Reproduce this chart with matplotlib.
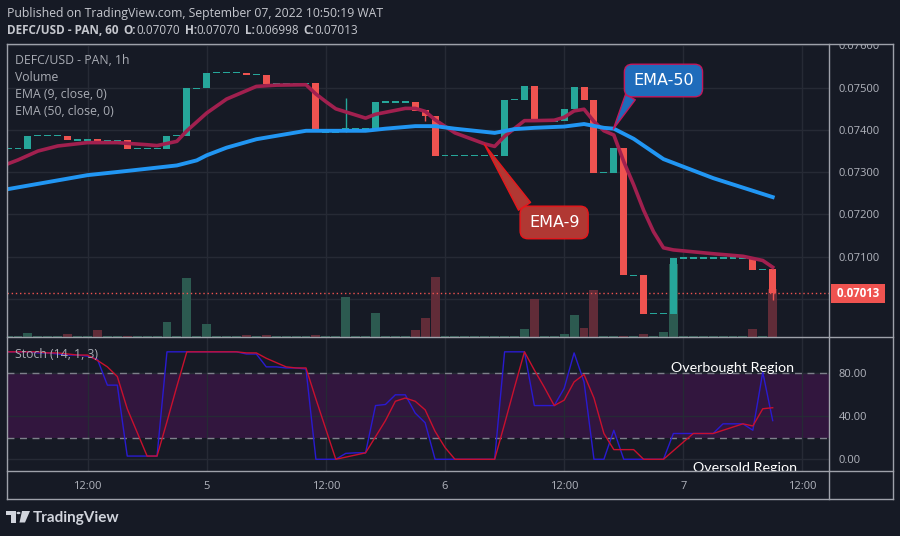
import numpy as np
import matplotlib.pyplot as plt
from matplotlib.lines import Line2D
from matplotlib.patches import Rectangle, Polygon, Circle

# ---------- data (x = hours since Sep 5 00:00) ----------
hours = np.arange(-20, 58)

opens = [
    0.07356, 0.07356, 0.07356, 0.07386, 0.07386, 0.07386, 0.07386, 0.07376, 0.07376, 0.07378,
    0.07375, 0.07375, 0.07376, 0.07356, 0.07356, 0.07356, 0.07356, 0.07386, 0.07386, 0.07499,
    0.07499, 0.07535, 0.07535, 0.07535, 0.07535, 0.07531, 0.07531, 0.07510, 0.07510, 0.07510,
    0.07510, 0.07510, 0.07394, 0.07394, 0.07394, 0.07404, 0.07404, 0.07402, 0.07466, 0.07466,
    0.07466, 0.07466, 0.07447, 0.07432, 0.07340, 0.07340, 0.07340, 0.07340, 0.07340, 0.07340,
    0.07338, 0.07472, 0.07472, 0.07504, 0.07421, 0.07421, 0.07421, 0.07450, 0.07502, 0.07470,
    0.07300, 0.07299, 0.07357, 0.07056, 0.07056, 0.06965, 0.06965, 0.06965, 0.07097, 0.07097,
    0.07097, 0.07097, 0.07097, 0.07097, 0.07097, 0.07097, 0.07070, 0.07070,
]
closes = [
    0.07356, 0.07356, 0.07386, 0.07386, 0.07386, 0.07386, 0.07376, 0.07376, 0.07376, 0.07374,
    0.07375, 0.07375, 0.07356, 0.07356, 0.07356, 0.07356, 0.07386, 0.07386, 0.07499, 0.07499,
    0.07535, 0.07535, 0.07535, 0.07535, 0.07531, 0.07531, 0.07509, 0.07510, 0.07510, 0.07510,
    0.07510, 0.07394, 0.07394, 0.07394, 0.07404, 0.07404, 0.07404, 0.07466, 0.07466, 0.07466,
    0.07466, 0.07445, 0.07432, 0.07338, 0.07340, 0.07340, 0.07340, 0.07340, 0.07340, 0.07340,
    0.07472, 0.07472, 0.07504, 0.07421, 0.07421, 0.07421, 0.07450, 0.07502, 0.07470, 0.07299,
    0.07300, 0.07357, 0.07056, 0.07056, 0.06964, 0.06965, 0.06965, 0.07097, 0.07097, 0.07097,
    0.07097, 0.07097, 0.07097, 0.07097, 0.07097, 0.07069, 0.07070, 0.07013,
]
wick_high = {14: 0.07475}
wick_low = {22: 0.07421, 57: 0.06998}

# volume in arbitrary units (scale top = 293.5)
volume = [
    0.7, 0.7, 3.7, 0.7, 0.7, 0.7, 2.7, 0.7, 0.7, 6.7,
    0.7, 0.7, 1.5, 0.7, 0.7, 0.7, 14.7, 0.7, 58.7, 0.7,
    12.7, 0.7, 0.7, 0.7, 2.0, 0.7, 2.0, 0.7, 0.7, 0.7,
    0.7, 2.0, 0.7, 0.7, 39.7, 0.7, 0.7, 23.7, 0.7, 0.7,
    0.7, 6.7, 18.7, 59.7, 0.7, 0.7, 0.7, 0.7, 0.7, 0.7,
    1.0, 0.7, 7.7, 37.7, 0.7, 0.7, 3.0, 21.7, 8.7, 46.7,
    0.7, 0.7, 1.5, 0.7, 3.0, 0.7, 4.7, 72.7, 0.7, 0.7,
    0.7, 0.7, 0.7, 0.7, 0.7, 7.7, 0.7, 47.7,
]
VOL_TOP = 293.5

ema9_hours = [-20, -19, -17, -15, -12, -9, -6, -5, -4, -3, -2, -1, 0, 2, 5, 7, 10, 11, 12, 13,
              16, 17, 20, 21, 22, 23, 25, 28, 29, 30, 32, 33, 35, 36, 37, 38, 39, 40, 41, 42,
              43, 44, 45, 46, 47, 51, 54, 55, 56, 57]
ema9 = [0.07320, 0.07329, 0.07350, 0.07362, 0.07370, 0.07370, 0.07365, 0.07363, 0.07368, 0.07373,
        0.07398, 0.07419, 0.07440, 0.07473, 0.07503, 0.07506, 0.07507, 0.07485, 0.07467, 0.07450,
        0.07428, 0.07437, 0.07451, 0.07451, 0.07444, 0.07424, 0.07393, 0.07367, 0.07361, 0.07385,
        0.07422, 0.07422, 0.07423, 0.07430, 0.07445, 0.07449, 0.07420, 0.07398, 0.07388, 0.07325,
        0.07270, 0.07210, 0.07159, 0.07121, 0.07116, 0.07107, 0.07101, 0.07096, 0.07091, 0.07075]

ema50_hours = [-20, -12, -8, -3, -1, 0, 2, 5, 10, 11, 16, 18, 21, 23, 25, 29, 31, 33, 36, 38,
               40, 41, 43, 46, 51, 57]
ema50 = [0.07260, 0.07293, 0.07303, 0.07316, 0.07328, 0.07340, 0.07358, 0.07378, 0.07398, 0.07398,
         0.07398, 0.07403, 0.07409, 0.07409, 0.07403, 0.07393, 0.07402, 0.07405, 0.07408, 0.07414,
         0.07405, 0.07403, 0.07379, 0.07331, 0.07286, 0.07241]

stoch_k = [
    100, 100, 100, 99, 99, 98, 97, 97, 96, 93,
    69, 69, 3, 3, 3, 3, 100, 100, 100, 100,
    100, 100, 100, 100, 98, 98, 86, 86, 85, 85,
    84, 0, 0, 0, 5.5, 6, 6, 50, 51, 60,
    60, 43, 34, 0, 0, 0, 0, 0, 0, 0,
    100, 100, 100, 50, 50, 50, 66, 99, 72, 0,
    0, 27, 0, 0, 0, 0, 0, 24, 24, 24,
    24, 24, 33, 33, 33, 27, 81, 36,
]
stoch_d = [
    100, 100, 100, 100, 99, 99, 98, 97, 97, 92,
    86, 77, 47, 25, 3, 3, 35, 68, 100, 100,
    100, 100, 100, 100, 99, 99, 94, 90, 86, 85,
    85, 56, 28, 0, 2, 4, 6, 21, 36, 54,
    57, 54, 46, 26, 11, 0, 0, 0, 0, 0,
    33, 67, 100, 83, 67, 50, 55, 72, 79, 57,
    24, 9, 9, 9, 0, 0, 0, 8, 16, 24,
    24, 24, 27, 30, 33, 31, 47, 48,
]

time_ticks = [-12, 0, 12, 24, 36, 48, 60]
time_labels = ["12:00", "5", "12:00", "6", "12:00", "7", "12:00"]
price_ticks = [0.070, 0.071, 0.072, 0.073, 0.074, 0.075, 0.076]
stoch_ticks = [0, 40, 80]
last_price = closes[-1]

# ---------- style ----------
W, H = 900, 536
BG = "#161a25"
GRID = "#262a35"
FRAME = "#9ea1aa"
TXT = "#b2b5be"
TEAL = "#26a69a"
RED = "#ef5350"
VOL_UP = "#2c5a50"
VOL_DN = "#612c38"
FONT = "Open Sans"


def fx(px):
    return px / W


def fy(py):
    return 1 - py / H


fig = plt.figure(figsize=(9, 5.36), dpi=100, facecolor=BG)
ax = fig.add_axes([fx(7), fy(337), fx(829) - fx(7), fy(43.5) - fy(337)], facecolor=BG)
axs = fig.add_axes([fx(7), fy(471), fx(829) - fx(7), fy(337) - fy(471)], facecolor=BG, sharex=ax)

for a in (ax, axs):
    for sp in a.spines.values():
        sp.set_visible(False)
    a.set_xticks(time_ticks)
    a.grid(True, color=GRID, lw=1, zorder=0)
    a.set_axisbelow(True)
    a.yaxis.tick_right()
    a.tick_params(axis="y", length=0, pad=7, labelsize=8, labelcolor=TXT)
    a.tick_params(axis="x", length=0)

ax.set_xlim(-20.11, 62.67)
ax.set_ylim(0.069099, 0.076046)
ax.set_yticks(price_ticks)
ax.set_yticklabels([f"{p:.5f}" for p in price_ticks], family=FONT)
ax.tick_params(axis="x", labelbottom=False)

# clip price labels to the price-scale column
clip = Rectangle((fx(829), fy(337)), fx(893) - fx(829), fy(43.5) - fy(337),
                 transform=fig.transFigure, visible=False)
fig.add_artist(clip)
for lab in ax.get_yticklabels():
    lab.set_clip_path(clip)

# ---------- volume ----------
o = np.array(opens)
c = np.array(closes)
up = c >= o
ax.bar(hours, np.array(volume) / VOL_TOP, width=0.9, bottom=0,
       color=np.where(up, VOL_UP, VOL_DN), transform=ax.get_xaxis_transform(), zorder=1)

# ---------- candles ----------
lo = np.minimum(o, c)
hi = np.maximum(o, c)
min_h = 0.000028
flat = (hi - lo) < min_h
heights = np.where(flat, min_h, hi - lo)
bottoms = np.where(flat, (hi + lo) / 2 - min_h / 2, lo)
cols = np.where(up, TEAL, RED)
for i, hr in enumerate(hours):
    top = wick_high.get(hr, hi[i])
    bot = wick_low.get(hr, lo[i])
    if top > hi[i] or bot < lo[i]:
        ax.vlines(hr, bot, top, color=cols[i], lw=1, zorder=3)
ax.bar(hours, heights, bottom=bottoms, width=0.7, color=cols, zorder=4)

# ---------- EMAs ----------
ax.plot(ema9_hours, ema9, color="#a1204f", lw=2.6, zorder=5, solid_joinstyle="round")
ax.plot(ema50_hours, ema50, color="#2196f3", lw=2.8, zorder=5, solid_joinstyle="round")

# last price line + label
ax.axhline(last_price, color=RED, lw=1, ls=(0, (1, 2)), zorder=2)
ax.annotate(f" {last_price:.5f} ", xy=(1, last_price), xycoords=ax.get_yaxis_transform(),
            xytext=(29, 0), textcoords="offset pixels", ha="center", va="center",
            color="white", fontsize=8.3, fontweight="bold", family=FONT, zorder=10,
            annotation_clip=False,
            bbox=dict(boxstyle="square,pad=0.28", fc=RED, ec="none"))

# callouts
ax.annotate("EMA-50", xy=(40.95, 0.07402), xytext=(46.0, 0.07517),
            ha="center", va="center", color="white", fontsize=11.5, zorder=12,
            annotation_clip=False,
            bbox=dict(boxstyle="round,pad=0.55,rounding_size=0.5", fc="#1f6cbb", ec="#c2185b", lw=1),
            arrowprops=dict(arrowstyle="wedge,tail_width=0.7", fc="#1f6cbb", ec="#c2185b", lw=1,
                            relpos=(0.05, 0.12), shrinkA=0, shrinkB=0))
ax.annotate("EMA-9", xy=(27.96, 0.07366), xytext=(34.99, 0.07181),
            ha="center", va="center", color="white", fontsize=11.5, zorder=12,
            annotation_clip=False,
            bbox=dict(boxstyle="round,pad=0.55,rounding_size=0.5", fc="#b13833", ec="#e8161b", lw=1),
            arrowprops=dict(arrowstyle="wedge,tail_width=0.9", fc="#b13833", ec="#e8161b", lw=1,
                            relpos=(0.05, 0.87), shrinkA=0, shrinkB=0))

# ---------- stochastic ----------
axs.set_ylim(-10.9, 113.8)
axs.set_yticks(stoch_ticks)
axs.set_yticklabels([f"{v:.2f}" for v in stoch_ticks], family=FONT)
axs.set_xticklabels(time_labels, family=FONT)
axs.tick_params(axis="x", pad=7, labelsize=8, labelcolor=TXT)
axs.axhspan(20, 80, color="#32163e", zorder=0.5, lw=0)
for lvl in (80, 20):
    axs.axhline(lvl, color="#7d808a", lw=1, ls=(0, (5, 4)), zorder=1)
axs.plot(hours, stoch_k, color="#2a1ad0", lw=1, zorder=3)
axs.plot(hours, stoch_d, color="#c8102e", lw=1, zorder=4)
axs.text(53.0, 84.9, "Overbought Region", ha="center", va="center", color="white",
         fontsize=10.3, family="Lato", zorder=6)
axs.text(54.2, -7.8, "Oversold Region", ha="center", va="center", color="white",
         fontsize=10.3, family="Lato", zorder=6, clip_on=True)

# ---------- frame ----------
def fline(x0, y0, x1, y1):
    fig.add_artist(Line2D([fx(x0), fx(x1)], [fy(y0), fy(y1)], transform=fig.transFigure,
                          color=FRAME, lw=1))

fline(7, 43.5, 893, 43.5)
fline(7, 499, 893, 499)
fline(7, 43.5, 7, 499)
fline(893, 43.5, 893, 499)
fline(829, 43.5, 829, 499)
fline(7, 337, 893, 337)
fline(7, 471, 893, 471)

# ---------- texts ----------
HDR = "#c5c7ce"
fig.text(fx(7), fy(13), "Published on TradingView.com, September 07, 2022 10:50:19 WAT",
         color=HDR, fontsize=8.8, family=FONT, va="center")

renderer = fig.canvas.get_renderer()
runs = [("DEFC/USD - PAN, 60", "bold", 5), ("O:", "bold", 0), ("0.07070", "normal", 5),
        ("H:", "bold", 0), ("0.07070", "normal", 5), ("L:", "bold", 0), ("0.06998", "normal", 5),
        ("C:", "bold", 0), ("0.07013", "normal", 0)]
xpos = 7
for s, wt, gap in runs:
    t = fig.text(fx(xpos), fy(30), s, color=HDR, fontsize=8.5, family=FONT, fontweight=wt,
                 va="center")
    xpos += t.get_window_extent(renderer=renderer).width + gap

LEG = "#a9acb4"
for yy, s in zip([61, 77.7, 95, 111.7],
                 ["DEFC/USD - PAN, 1h", "Volume", "EMA (9, close, 0)", "EMA (50, close, 0)"]):
    fig.text(fx(15), fy(yy), s, color=LEG, fontsize=8.8, family=FONT, va="center")
fig.text(fx(15), fy(354.3), "Stoch (14, 1, 3)", color=LEG, fontsize=8.8, family=FONT, va="center")

# TradingView logo
LOGO = "#d1d4dc"
fig.add_artist(Polygon([(fx(6), fy(511)), (fx(15.5), fy(511)), (fx(15.5), fy(522.5)),
                        (fx(11), fy(522.5)), (fx(11), fy(515)), (fx(6), fy(515))],
                       closed=True, transform=fig.transFigure, fc=LOGO, ec="none"))
fig.add_artist(Circle((fx(18.5), fy(513)), 2.0 / W, transform=fig.transFigure, fc=LOGO, ec="none"))
fig.add_artist(Polygon([(fx(22), fy(511)), (fx(30), fy(511)), (fx(25), fy(522.5)),
                        (fx(19.5), fy(522.5))],
                       closed=True, transform=fig.transFigure, fc=LOGO, ec="none"))
fig.text(fx(33), fy(518), "TradingView", color=LOGO, fontsize=11, family="Lato",
         fontweight="bold", va="center")

fig.savefig("out.png", dpi=100, facecolor=BG)
